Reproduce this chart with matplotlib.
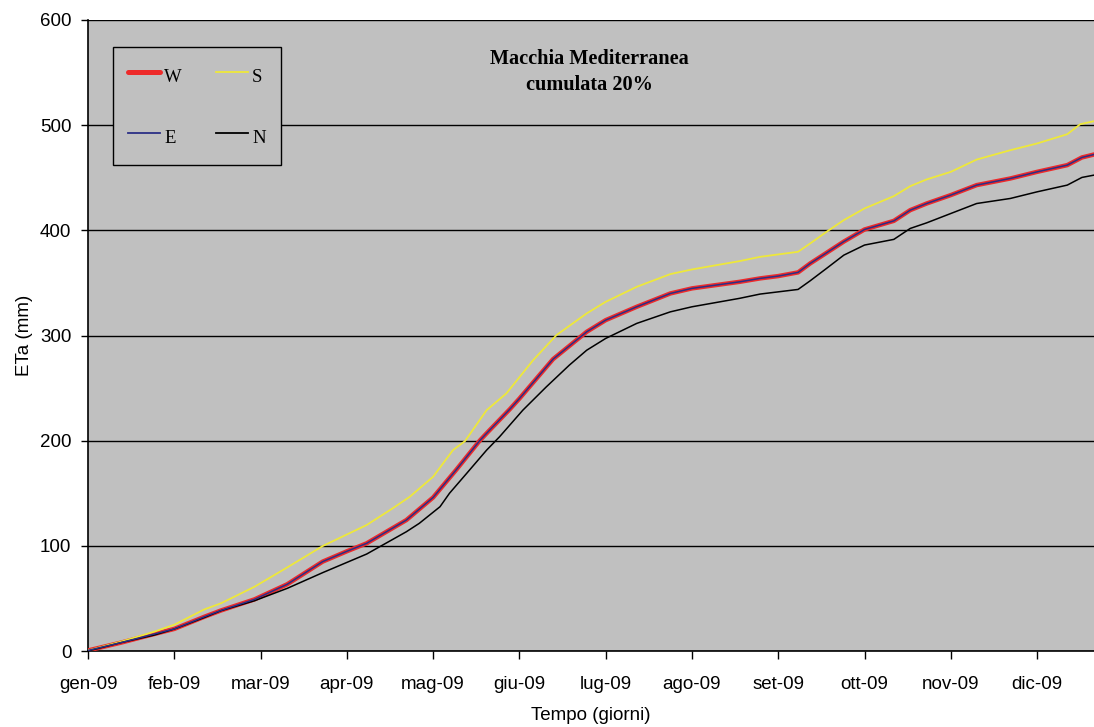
import matplotlib
matplotlib.use("Agg")
import matplotlib.pyplot as plt
from matplotlib.lines import Line2D

# Month labels (x axis is measured in months from 1 January 2009)
months = ["gen-09", "feb-09", "mar-09", "apr-09", "mag-09", "giu-09",
          "lug-09", "ago-09", "set-09", "ott-09", "nov-09", "dic-09"]
x_end = 11.66

# Cumulative actual evapotranspiration (mm) for each exposure
w_x = [0, 0.38, 0.77, 1.0, 1.35, 1.54, 1.93, 2.31, 2.72, 3.0, 3.23, 3.69, 4.0,
       4.27, 4.54, 4.62, 4.89, 5.0, 5.39, 5.78, 6.0, 6.36, 6.75, 7.0, 7.55, 7.79,
       8.0, 8.23, 8.37, 8.56, 8.76, 9.0, 9.34, 9.53, 9.72, 10.0, 10.30, 10.69,
       11.0, 11.35, 11.52, 11.66]
w_y = [0.5, 7.9, 16.2, 21, 32.6, 38.5, 49.1, 63.5, 85.0, 94.8, 102.4, 124.5, 146,
       172.5, 200, 207, 230, 240, 277.5, 303.5, 314.6, 327.3, 340, 344.8, 351, 354.3,
       356.5, 360, 368.5, 378.6, 389.3, 400.8, 409, 419.2, 425.5, 433.5, 443, 449.3,
       455.6, 462, 469.3, 472.1]

e_x = [0, 0.38, 0.77, 1.0, 1.35, 1.54, 1.93, 2.31, 2.72, 3.0, 3.23, 3.69, 4.0,
       4.27, 4.54, 4.62, 4.89, 5.0, 5.39, 5.78, 6.0, 6.36, 6.75, 7.0, 7.55, 7.79,
       8.0, 8.23, 8.37, 8.56, 8.76, 9.0, 9.34, 9.53, 9.72, 10.0, 10.30, 10.69,
       11.0, 11.35, 11.52, 11.66]
e_y = [0.5, 7.9, 16.2, 21, 32.6, 38.5, 49.1, 63.5, 85.0, 94.8, 102.4, 124.5, 146,
       172.5, 200, 207, 230, 240, 277.5, 303.5, 314.6, 327.3, 340, 344.8, 351, 354.3,
       356.5, 360, 368.5, 378.6, 389.3, 400.8, 409, 419.2, 425.5, 433.5, 443, 449.3,
       455.6, 462, 469.3, 472.1]

s_x = [0, 0.38, 0.77, 1.0, 1.35, 1.54, 1.93, 2.31, 2.72, 3.23, 3.53, 3.73, 4.0,
       4.23, 4.37, 4.62, 4.85, 5.16, 5.43, 5.78, 6.0, 6.36, 6.75, 7.0, 7.55, 7.79,
       8.23, 8.37, 8.56, 8.76, 9.0, 9.34, 9.53, 9.72, 10.0, 10.30, 10.69, 11.0,
       11.35, 11.50, 11.66]
s_y = [0.5, 8.8, 18.4, 25, 39.6, 45.3, 61.1, 79.5, 99.8, 119.8, 135.6, 146.7, 165.7,
       191, 199.6, 229, 245, 276.6, 300.4, 321, 332, 346.3, 358.4, 362.8, 370.7, 374.8,
       379.6, 387.5, 398.6, 409.7, 420.8, 432.5, 442, 448.4, 455.6, 467.3, 476.2,
       482.6, 491.4, 500.9, 503.8]

n_x = [0, 0.38, 0.77, 1.0, 1.35, 1.54, 1.93, 2.31, 2.72, 3.23, 3.69, 3.84, 4.08,
       4.19, 4.39, 4.62, 4.77, 5.04, 5.31, 5.58, 5.78, 6.0, 6.36, 6.75, 7.0, 7.55,
       7.79, 8.23, 8.37, 8.56, 8.76, 9.0, 9.34, 9.53, 9.72, 10.0, 10.30, 10.69,
       11.0, 11.35, 11.52, 11.66]
n_y = [0, 7.9, 15.2, 20.9, 31.9, 38.3, 47.8, 59.6, 74.5, 92.2, 113.4, 121.4, 137.2,
       150, 169, 191, 203.7, 229, 251, 271.9, 286, 297.2, 311.5, 322.5, 327.3, 335.3,
       339.4, 343.8, 352, 363.8, 376.4, 386, 391.4, 401.8, 407.1, 416, 425.5, 430.3,
       436.6, 443, 450.3, 452.5]

y_ticks = [0, 100, 200, 300, 400, 500, 600]

c_w = "#EE2A2A"
c_e = "#2B2F86"
c_s = "#EEE83A"
c_n = "#000000"
bg = "#C0C0C0"

fig = plt.figure(figsize=(10.94, 7.27), dpi=100)
ax = fig.add_axes([88 / 1094, 1 - 651 / 727, 1 - 88 / 1094, (651 - 20) / 727])
ax.set_facecolor(bg)

ax.plot(w_x, w_y, color=c_w, lw=3.2, solid_capstyle="round", zorder=3)
ax.plot(e_x, e_y, color=c_e, lw=1.1, zorder=4)
ax.plot(s_x, s_y, color=c_s, lw=1.3, zorder=3)
ax.plot(n_x, n_y, color=c_n, lw=1.1, zorder=3)

ax.set_xlim(0, x_end)
ax.set_ylim(0, 600)
ax.set_yticks(y_ticks)
ax.set_xticks(range(len(months)))
ax.set_xticklabels(months)
ax.yaxis.grid(True, color="black", lw=1.0)
ax.set_axisbelow(True)

for side in ("top", "right"):
    ax.spines[side].set_visible(False)
for side in ("left", "bottom"):
    ax.spines[side].set_color("black")
    ax.spines[side].set_linewidth(1.2)

tick_font = dict(family="Liberation Sans", size=13.5)
for lab in ax.get_xticklabels() + ax.get_yticklabels():
    lab.set_fontfamily("Liberation Sans")
    lab.set_fontsize(13.5)
ax.tick_params(axis="y", length=5, width=1, pad=7)
ax.tick_params(axis="x", length=6, width=1, pad=12)

ax.set_ylabel("ETa (mm)", fontdict=tick_font, labelpad=5)
ax.set_xlabel("Tempo (giorni)", fontdict=tick_font, labelpad=10)

ax.text(0.498, 0.917, "Macchia Mediterranea\ncumulata 20%", transform=ax.transAxes,
        ha="center", va="center", family="Liberation Serif", weight="bold",
        fontsize=14.6, linespacing=1.4)

handles = [
    Line2D([], [], color=c_w, lw=3.6, solid_capstyle="round"),
    Line2D([], [], color=c_e, lw=1.3),
    Line2D([], [], color=c_s, lw=1.3),
    Line2D([], [], color=c_n, lw=1.3),
]
leg = ax.legend(handles, ["W", "E", "S", "N"], ncol=2,
                loc="upper left", bbox_to_anchor=((112.5 - 88) / 1006, 1 - (47 - 20) / 631),
                frameon=True, fancybox=False, facecolor=bg, edgecolor="black",
                framealpha=1, prop=dict(family="Liberation Serif", size=13.5),
                handlelength=1.75, handleheight=1.85, handletextpad=0.2,
                columnspacing=1.8, labelspacing=1.82, borderpad=0.8, borderaxespad=0)
leg.get_frame().set_linewidth(1.0)
leg.set_zorder(5)

fig.savefig("out.png", dpi=100, facecolor="white")
